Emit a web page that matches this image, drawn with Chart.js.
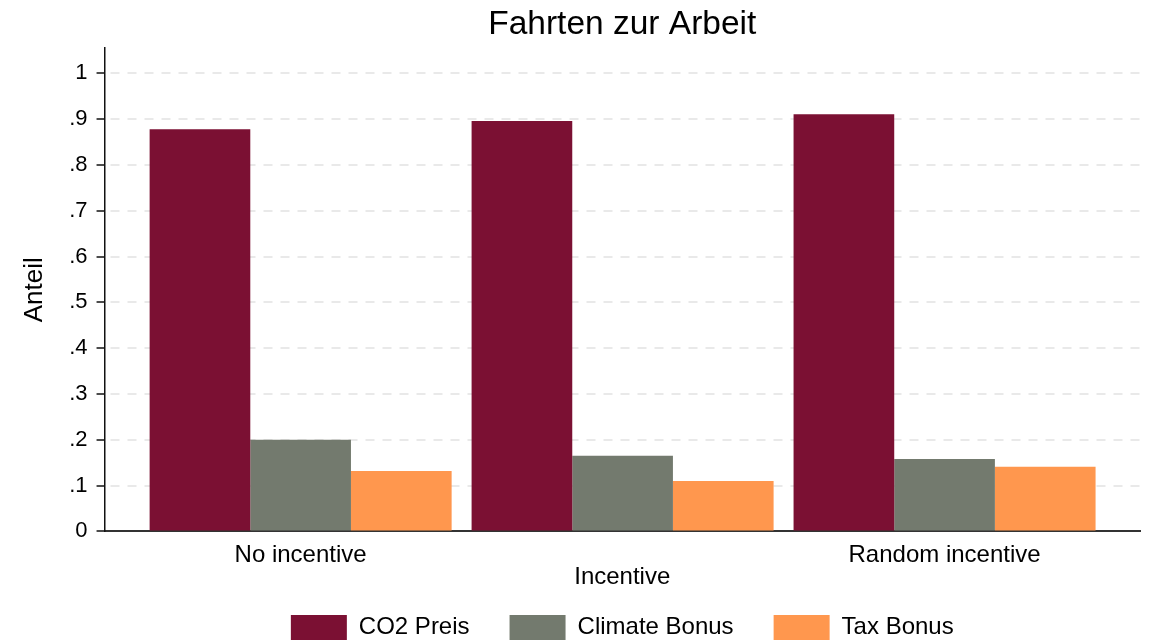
<!DOCTYPE html>
<html>
<head>
<meta charset="utf-8">
<script src="https://cdn.jsdelivr.net/npm/chart.js@4"></script>
<style>
html,body{margin:0;padding:0;background:#fff;overflow:hidden;}
#wrap{width:1153px;height:640px;position:relative;}
</style>
</head>
<body>
<div id="wrap"><canvas id="c"></canvas></div>
<script>
const categories = ["No incentive", "Incentive", "Random incentive"];
const tickLabels = ["No incentive", "", "Random incentive"];
const categoryPositions = [0, 1, 2];
const co2Preis = [0.878, 0.896, 0.911];
const climateBonus = [0.200, 0.165, 0.158];
const taxBonus = [0.132, 0.110, 0.141];
const yTicks = [0, 0.1, 0.2, 0.3, 0.4, 0.5, 0.6, 0.7, 0.8, 0.9, 1];
const yTickLabels = ["0", ".1", ".2", ".3", ".4", ".5", ".6", ".7", ".8", ".9", "1"];

const toPoints = arr => arr.map((v, i) => ({x: categoryPositions[i], y: v}));
const FONT = "'Liberation Sans', Arial, Helvetica, sans-serif";

new Chart(document.getElementById('c'), {
  type: 'bar',
  data: {
    datasets: [
      {label: 'CO2 Preis', data: toPoints(co2Preis), backgroundColor: '#7b1033'},
      {label: 'Climate Bonus', data: toPoints(climateBonus), backgroundColor: '#737a6e'},
      {label: 'Tax Bonus', data: toPoints(taxBonus), backgroundColor: '#ff974e'}
    ]
  },
  options: {
    responsive: true,
    maintainAspectRatio: false,
    animation: false,
    devicePixelRatio: 1,
    layout: {padding: {left: 19, right: 13, top: 0, bottom: -10}},
    datasets: {bar: {barPercentage: 1, categoryPercentage: 0.938, borderWidth: 0}},
    plugins: {
      tooltip: {enabled: false},
      title: {
        display: true, text: 'Fahrten zur Arbeit', fullSize: false,
        color: '#000', font: {family: FONT, size: 33.5, weight: 'normal'},
        padding: {top: 5, bottom: 3}
      },
      legend: {
        position: 'bottom', fullSize: false,
        labels: {
          color: '#000', font: {family: FONT, size: 24},
          boxWidth: 56, boxHeight: 25, padding: 40
        }
      }
    },
    scales: {
      x: {
        type: 'linear', min: -0.609, max: 2.607, offset: false,
        afterBuildTicks: s => { s.ticks = categoryPositions.map(v => ({value: v})); },
        ticks: {
          color: '#000', font: {family: FONT, size: 24}, padding: 10,
          maxRotation: 0, autoSkip: false,
          callback: v => tickLabels[categoryPositions.indexOf(v)]
        },
        grid: {display: false, drawTicks: false},
        border: {display: true, color: '#333', width: 2},
        title: {display: true, text: 'Incentive', color: '#000',
          font: {family: FONT, size: 24}, padding: {top: -17, bottom: -17}}
      },
      y: {
        min: 0, max: 1.055,
        afterBuildTicks: s => { s.ticks = yTicks.map(v => ({value: v})); },
        ticks: {
          color: '#000', font: {family: FONT, size: 22}, padding: 9,
          callback: v => yTickLabels[yTicks.findIndex(t => Math.abs(t - v) < 1e-9)]
        },
        grid: {
          color: ctx => (ctx.tick && ctx.tick.value === 0) ? 'rgba(0,0,0,0)' : '#e9e9e9',
          lineWidth: 2, borderDash: [9, 8], borderDashOffset: -5,
          drawTicks: true, tickLength: 8, tickColor: '#111', tickWidth: 1.5,
          tickBorderDash: []
        },
        border: {display: true, color: '#111', width: 1.5, dash: [9, 8], dashOffset: -5},
        title: {display: true, text: 'Anteil', color: '#000',
          font: {family: FONT, size: 26}, padding: {top: 0, bottom: 10}}
      }
    }
  }
});
</script>
</body>
</html>
